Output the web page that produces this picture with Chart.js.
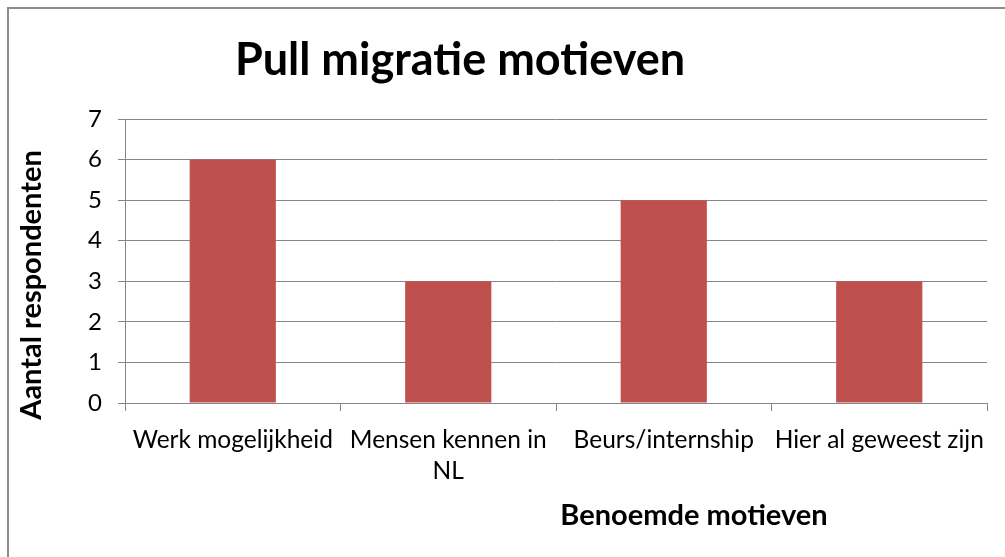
<!DOCTYPE html>
<html>
  <head>
    <meta charset="UTF-8">
    <title>Pull migratie motieven</title>
    <style>
      body { margin: 0; background: #fff; }
      #frame { position: absolute; left: 7px; top: 7px; width: 1010px; height: 560px; border: 2px solid #8c8c8c; box-sizing: border-box; }
      canvas { position: absolute; left: 0; top: 0; }
    </style>
  </head>
  <body>
    <div id="frame"></div>
    <canvas id="barChart" width="1005" height="557"></canvas>
  </body>
  <script src="https://cdn.jsdelivr.net/npm/chart.js@4/dist/chart.umd.min.js"></script>
  <script>
    const categories = ['Werk mogelijkheid', ['Mensen kennen in', 'NL'], 'Beurs/internship', 'Hier al geweest zijn'];
    const respondents = [6, 3, 5, 3];
    const yTicks = [0, 1, 2, 3, 4, 5, 6, 7];

    const titleText = 'Pull migratie motieven';
    const xTitle = 'Benoemde motieven';
    const yTitle = 'Aantal respondenten';
    const fontFamily = 'Lato, "Open Sans", sans-serif';

    // titles are placed like in the original, not centred on the plot
    const textPlugin = {
      id: 'textPlugin',
      afterDraw(chart) {
        const ctx = chart.ctx;
        ctx.save();
        ctx.fillStyle = '#000';
        ctx.textAlign = 'center';
        ctx.textBaseline = 'middle';
        ctx.font = 'bold 45px ' + fontFamily;
        ctx.fillText(titleText, 460, 60);
        ctx.font = 'bold 29px ' + fontFamily;
        ctx.fillText(xTitle, 694, 516);
        ctx.translate(32, 285);
        ctx.rotate(-Math.PI / 2);
        ctx.fillText(yTitle, 0, 0);
        ctx.restore();
      }
    };

    const ctx = document.getElementById('barChart').getContext('2d');
    const barChart = new Chart(ctx, {
      type: 'bar',
      data: {
        labels: categories,
        datasets: [{
          data: respondents,
          backgroundColor: '#C0504D',
          borderWidth: 0,
          barPercentage: 0.4,
          categoryPercentage: 1
        }]
      },
      options: {
        responsive: false,
        animation: false,
        layout: { padding: { top: 119, right: 18, left: 0, bottom: 0 } },
        plugins: { legend: { display: false }, tooltip: { enabled: false } },
        scales: {
          y: {
            min: 0,
            max: 7,
            afterFit(scale) { scale.width = 125; },
            afterBuildTicks(scale) { scale.ticks = yTicks.map(v => ({ value: v })); },
            grid: { color: '#868686', lineWidth: 1, tickLength: 7 },
            border: { color: '#868686', width: 1 },
            ticks: { color: '#000', padding: 16, font: { family: fontFamily, size: 24 } }
          },
          x: {
            afterFit(scale) { scale.height = 154; },
            grid: { offset: true, drawOnChartArea: false, color: '#868686', tickLength: 8 },
            border: { color: '#868686', width: 1 },
            ticks: { color: '#000', padding: 13, maxRotation: 0, autoSkip: false, font: { family: fontFamily, size: 24.5, lineHeight: 1.28 } }
          }
        }
      },
      plugins: [textPlugin]
    });
  </script>
</html>
